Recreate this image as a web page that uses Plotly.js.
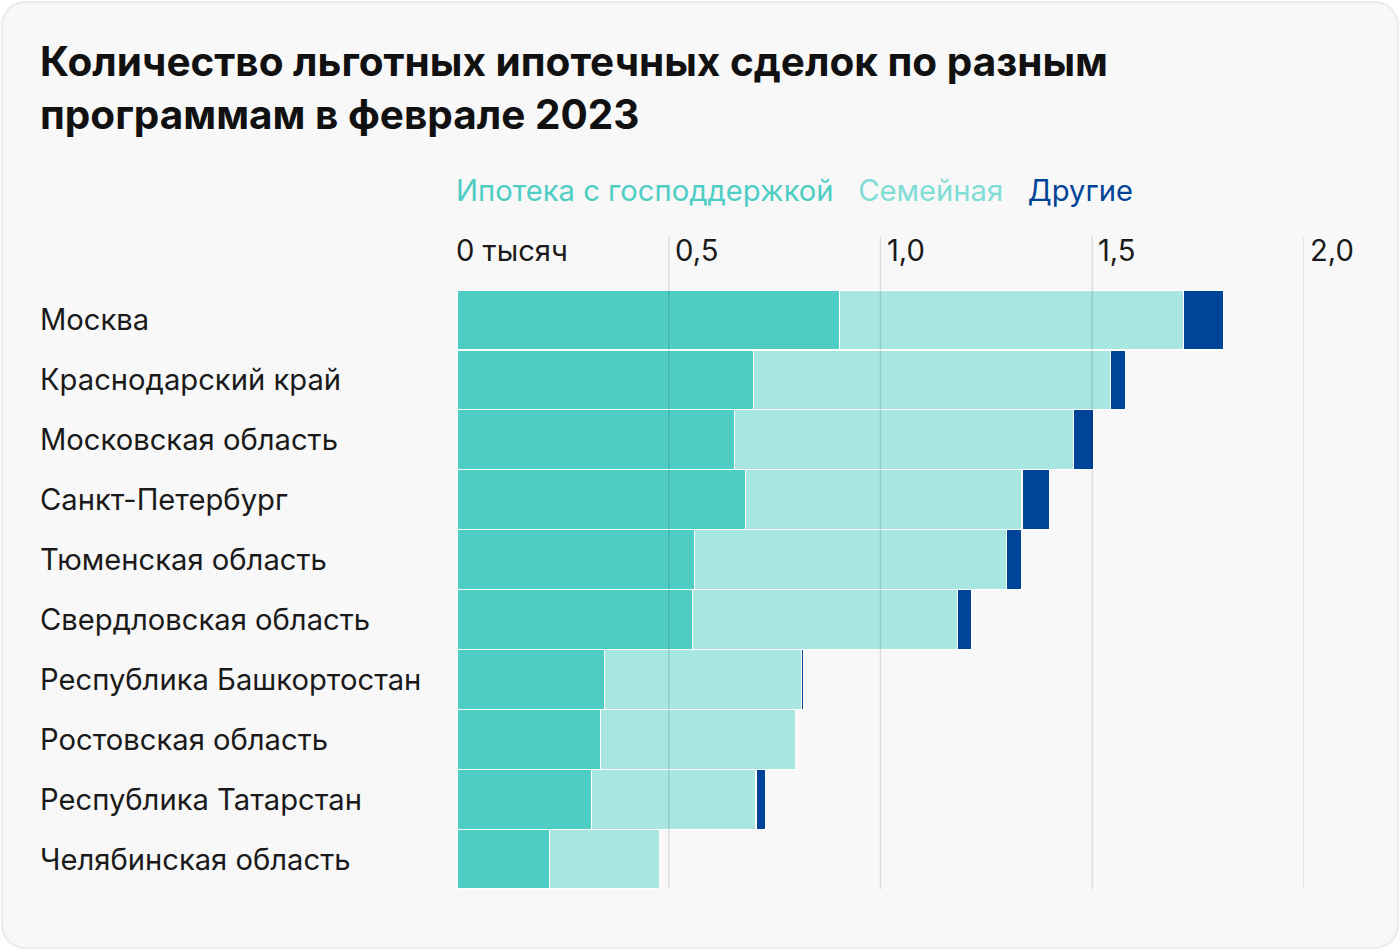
<!DOCTYPE html>
<html><head><meta charset="utf-8">
<script src="https://cdn.plot.ly/plotly-3.0.1.min.js"></script>
<style>
html,body{margin:0;padding:0;background:#ffffff;}
#card{position:absolute;left:1px;top:1px;width:1394px;height:944px;background:#f8f8f8;border:2px solid #ebebeb;border-radius:24px;}
#chart{position:absolute;left:0;top:0;width:1400px;height:950px;}
</style></head>
<body>
<div id="card"></div>
<div id="chart"></div>
<script>
const regions = ['Москва','Краснодарский край','Московская область','Санкт-Петербург','Тюменская область','Свердловская область','Республика Башкортостан','Ростовская область','Республика Татарстан','Челябинская область'];
const govSupport = [0.903,0.701,0.656,0.681,0.560,0.557,0.349,0.338,0.318,0.218];
const family = [0.812,0.843,0.800,0.653,0.738,0.624,0.465,0.461,0.388,0.260];
const other = [0.094,0.034,0.047,0.065,0.035,0.034,0.005,0,0.022,0];
const seriesNames = ['Ипотека с господдержкой','Семейная','Другие'];
const tickVals = [0,0.5,1.0,1.5,2.0];
const tickText = ['0 тысяч','0,5','1,0','1,5','2,0'];

const barColors = ['#4ecdc4','#a8e6e2','#004497'];
const legendColors = ['#4ecdc4','#80ddd6','#004497'];
const FONT = 'Inter, Roboto, sans-serif';
const FS = 29.2;

const seriesVals = [govSupport, family, other];
const traces = seriesVals.map((v,i)=>({
  type:'bar', orientation:'h', x:v, y:regions, name:seriesNames[i],
  marker:{color:barColors[i], line:{color:'#ffffff', width:1.2}},
  hoverinfo:'x+y+name'
}));

const W=1400,H=950, L=457, R=96, T=290, B=61;
const plotW = W-L-R, plotH = H-T-B;

const annotations = [];
regions.forEach(r=>annotations.push({
  xref:'paper', yref:'y', x:-(L-40)/plotW, y:r, xanchor:'left', yanchor:'middle',
  xshift:-2,
  text:r, showarrow:false, font:{family:FONT, size:FS, color:'#1a1a1a'}
}));
tickVals.forEach((v,i)=>annotations.push({
  xref:'x', yref:'paper', x:v, y:(H-B-250)/plotH, xanchor:'left', yanchor:'middle',
  xshift: i===0 ? -3 : 4,
  text:tickText[i], showarrow:false, font:{family:FONT, size:FS, color:'#1a1a1a'}
}));
annotations.push({
  xref:'paper', yref:'paper', x:-3/plotW, y:(H-B-190)/plotH, xanchor:'left', yanchor:'middle',
  showarrow:false, font:{family:FONT, size:FS},
  text: seriesNames.map((n,i)=>'<span style="color:'+legendColors[i]+'">'+n+'</span>').join('&nbsp;&nbsp;&nbsp;')
});

const shapes = tickVals.filter(v=>v>0).map(v=>({
  type:'line', xref:'x', yref:'paper', x0:v, x1:v, y0:0, y1:(H-B-237)/plotH,
  line:{color:'rgba(0,0,0,0.11)', width:1.5}, layer:'above'
}));

const layout = {
  width:W, height:H,
  paper_bgcolor:'rgba(0,0,0,0)', plot_bgcolor:'rgba(0,0,0,0)',
  margin:{l:L, r:R, t:T, b:B, pad:0},
  barmode:'stack', bargap:0,
  showlegend:false,
  title:{text:'Количество льготных ипотечных сделок по разным<br>программам в феврале 2023',
    xref:'container', yref:'container', x:40/W, y:1-76/H, xanchor:'left', yanchor:'top',
    font:{family:FONT, size:40.5, color:'#111111', weight:700}},
  xaxis:{range:[0,2.0], showgrid:false, zeroline:false, showticklabels:false, showline:false, fixedrange:true},
  yaxis:{type:'category', range:[9.5,-0.5], showgrid:false, zeroline:false, showticklabels:false, showline:false, fixedrange:true},
  annotations:annotations, shapes:shapes,
  font:{family:FONT}
};
Plotly.newPlot('chart', traces, layout, {displayModeBar:false, staticPlot:true});
</script>
</body></html>
